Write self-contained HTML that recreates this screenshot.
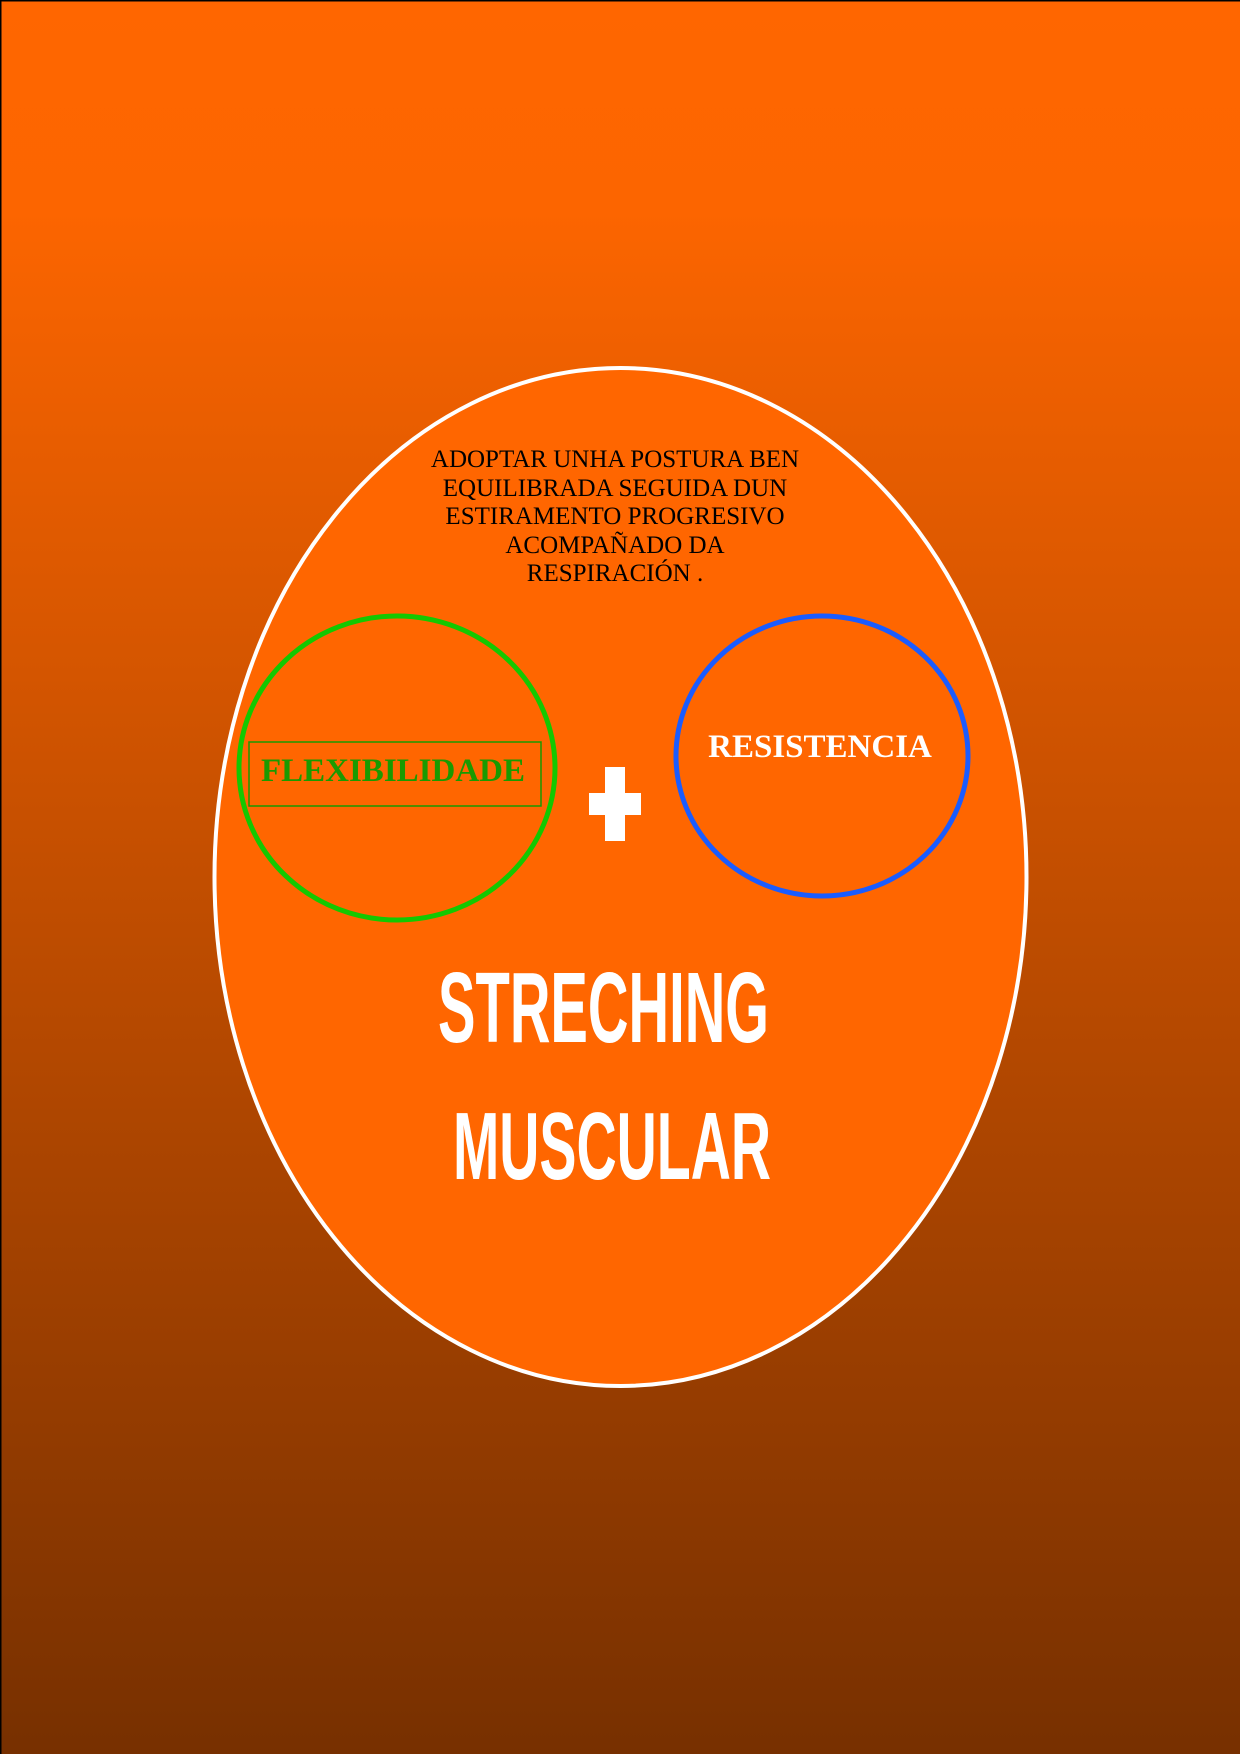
<!DOCTYPE html>
<html><head><meta charset="utf-8"><style>
html,body{margin:0;padding:0;}
body{width:1240px;height:1754px;overflow:hidden;}
</style></head><body>
<svg width="1240" height="1754" viewBox="0 0 1240 1754" xmlns="http://www.w3.org/2000/svg">
<defs>
<linearGradient id="bg" x1="0" y1="0" x2="0" y2="1">
<stop offset="0" stop-color="#ff6600"/>
<stop offset="0.12" stop-color="#fc6500"/>
<stop offset="1" stop-color="#773000"/>
</linearGradient>
</defs>
<rect width="1240" height="1754" fill="url(#bg)"/>
<rect x="0" y="0" width="1240" height="1.5" fill="#000"/>
<rect x="0" y="0" width="1.5" height="1754" fill="#000"/>
<ellipse cx="620.5" cy="877" rx="406" ry="509" fill="#ff6600" stroke="#fff" stroke-width="4"/>
<g font-family="'Liberation Serif',serif" font-size="25" fill="#000" text-anchor="middle">
<text x="615" y="467">ADOPTAR UNHA POSTURA BEN</text>
<text x="615" y="496">EQUILIBRADA  SEGUIDA DUN</text>
<text x="615" y="524">ESTIRAMENTO  PROGRESIVO</text>
<text x="615" y="553">ACOMPAÑADO DA</text>
<text x="615" y="581">RESPIRACIÓN .</text>
</g>
<ellipse cx="397" cy="768" rx="158" ry="152" fill="none" stroke="#14c800" stroke-width="5"/>
<rect x="249" y="742" width="292" height="64" fill="none" stroke="#1a9a00" stroke-width="1.5"/>
<text x="393" y="781" font-family="'Liberation Serif',serif" font-weight="bold" font-size="33" fill="#1a9a00" text-anchor="middle">FLEXIBILIDADE</text>
<ellipse cx="822" cy="756" rx="146" ry="140" fill="none" stroke="#1a5cff" stroke-width="5"/>
<text x="820" y="757" font-family="'Liberation Serif',serif" font-weight="bold" font-size="33" fill="#fff" text-anchor="middle">RESISTENCIA</text>
<rect x="605" y="767" width="20" height="74" fill="#fff"/>
<rect x="589" y="793" width="52" height="22" fill="#fff"/>
<g font-family="'Liberation Sans Narrow','Liberation Sans',sans-serif" font-weight="bold" fill="#fff">
<text x="438" y="1042" font-size="100" textLength="331" lengthAdjust="spacingAndGlyphs">STRECHING</text>
<text x="453" y="1179" font-size="96" textLength="318" lengthAdjust="spacingAndGlyphs">MUSCULAR</text>
</g>
</svg>
</body></html>
